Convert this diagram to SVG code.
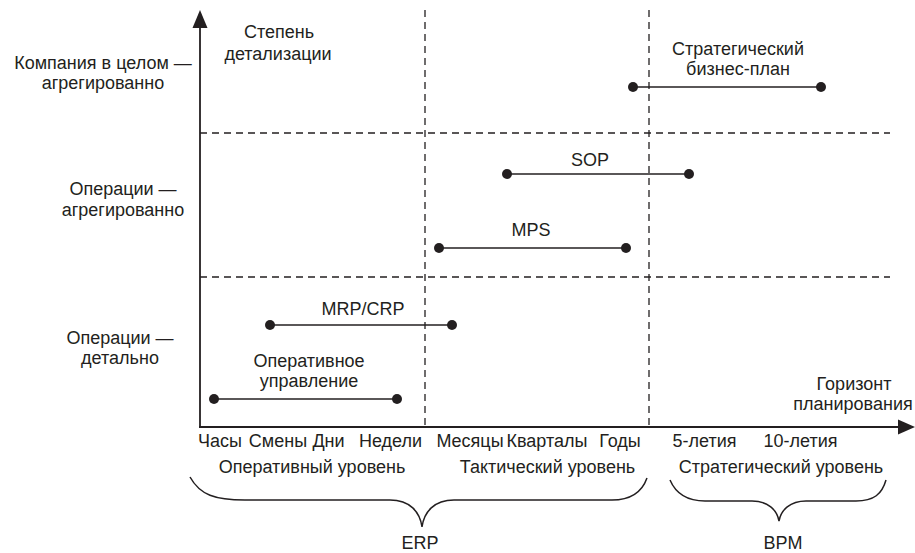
<svg xmlns="http://www.w3.org/2000/svg" width="915" height="553" viewBox="0 0 915 553">
<style>
text{font-family:"Liberation Sans",Arial,sans-serif;font-size:18px;fill:#231f20;text-anchor:middle}
.axis{stroke:#231f20;stroke-width:1.8;fill:none}
.dash{stroke:#231f20;stroke-width:1.3;stroke-dasharray:7 5;fill:none}
.seg{stroke:#231f20;stroke-width:1.5;fill:none}
.dot{fill:#231f20}
.brace{stroke:#231f20;stroke-width:1.5;fill:none}
.head{fill:#231f20}
</style>
<rect width="915" height="553" fill="#ffffff"/>
<g id="grid">
<line class="dash" x1="200" y1="133" x2="890" y2="133"/>
<line class="dash" x1="200" y1="277" x2="890" y2="277"/>
<line class="dash" x1="425" y1="10" x2="425" y2="427"/>
<line class="dash" x1="649" y1="10" x2="649" y2="427"/>
</g>
<g id="axes">
<line class="axis" x1="200" y1="427" x2="200" y2="26"/>
<polygon class="head" points="200,10 192.5,28 207.5,28"/>
<line class="axis" x1="199" y1="427" x2="900" y2="427"/>
<polygon class="head" points="915,427 898,419.5 898,434.5"/>
</g>
<g id="y-labels">
<text x="103" y="69">Компания в целом —</text>
<text x="103" y="89">агрегированно</text>
<text x="123" y="195">Операции —</text>
<text x="123" y="216">агрегированно</text>
<text x="120" y="344">Операции —</text>
<text x="120" y="364">детально</text>
</g>
<g id="y-title">
<text x="279" y="38">Степень</text>
<text x="278" y="60">детализации</text>
</g>
<g id="x-title">
<text x="854" y="390">Горизонт</text>
<text x="853" y="410">планирования</text>
</g>
<g id="x-ticks">
<text x="220" y="447">Часы</text>
<text x="278" y="447">Смены</text>
<text x="328.5" y="447">Дни</text>
<text x="390.5" y="447">Недели</text>
<text x="470" y="447">Месяцы</text>
<text x="547" y="447">Кварталы</text>
<text x="620" y="447">Годы</text>
<text x="704.5" y="447">5-летия</text>
<text x="800.5" y="447">10-летия</text>
</g>
<g id="levels">
<text x="312" y="473">Оперативный уровень</text>
<text x="547.5" y="473">Тактический уровень</text>
<text x="781" y="473">Стратегический уровень</text>
</g>
<g id="seg-strategic">
<line class="seg" x1="633" y1="87" x2="821" y2="87"/>
<circle class="dot" cx="633" cy="87" r="5"/>
<circle class="dot" cx="821" cy="87" r="5"/>
<text x="738" y="55">Стратегический</text>
<text x="738" y="75">бизнес-план</text>
</g>
<g id="seg-sop">
<line class="seg" x1="507" y1="174" x2="689" y2="174"/>
<circle class="dot" cx="507" cy="174" r="5"/>
<circle class="dot" cx="689" cy="174" r="5"/>
<text x="590" y="166">SOP</text>
</g>
<g id="seg-mps">
<line class="seg" x1="439" y1="248" x2="626" y2="248"/>
<circle class="dot" cx="439" cy="248" r="5"/>
<circle class="dot" cx="626" cy="248" r="5"/>
<text x="531" y="236">MPS</text>
</g>
<g id="seg-mrp">
<line class="seg" x1="270" y1="325" x2="452" y2="325"/>
<circle class="dot" cx="270" cy="325" r="5"/>
<circle class="dot" cx="452" cy="325" r="5"/>
<text x="363" y="315">MRP/CRP</text>
</g>
<g id="seg-oper">
<line class="seg" x1="214" y1="399" x2="397" y2="399"/>
<circle class="dot" cx="214" cy="399" r="5"/>
<circle class="dot" cx="397" cy="399" r="5"/>
<text x="309" y="367">Оперативное</text>
<text x="309" y="387">управление</text>
</g>
<g id="brace-erp">
<path class="brace" d="M190,477 C200,495 215,500 245,500 L390,500 C410,500 420,512 422,527 C424,512 434,500 454,500 L612,500 C630,500 642,492 647,478"/>
<text x="420" y="549">ERP</text>
</g>
<g id="brace-bpm">
<path class="brace" d="M670,480 C676,494 688,501 705,501 L752,501 C768,501 777,510 779,521 C781,510 790,501 806,501 L856,501 C874,501 882,494 886,480"/>
<text x="783" y="549">BPM</text>
</g>
</svg>
